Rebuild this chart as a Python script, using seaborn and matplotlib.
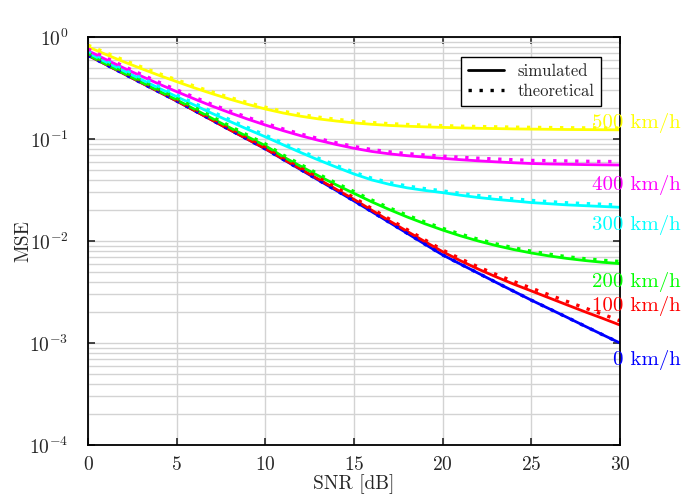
import numpy as np
import pandas as pd
import matplotlib
matplotlib.use("Agg")
import matplotlib.pyplot as plt
from matplotlib.lines import Line2D
from matplotlib.ticker import LogLocator, NullFormatter
import seaborn as sns

# SNR grid (dB), 0..30 in 1 dB steps
snr = list(range(31))

speeds = ['0 km/h', '100 km/h', '200 km/h', '300 km/h', '400 km/h', '500 km/h']
colors = ['#0000ff', '#ff0000', '#00ff00', '#00ffff', '#ff00ff', '#ffff00']

# simulated MSE
sim_0 = [0.661, 0.538, 0.438, 0.356, 0.290, 0.236, 0.190, 0.153, 0.123, 0.0993,
         0.080, 0.0632, 0.050, 0.0395, 0.0313, 0.0247, 0.0194, 0.0152, 0.0119, 0.0093,
         0.0073, 0.00594, 0.00484, 0.00394, 0.00322, 0.00263, 0.00217, 0.00179, 0.00147, 0.00121,
         0.0010]
sim_100 = [0.661, 0.538, 0.438, 0.356, 0.290, 0.236, 0.190, 0.153, 0.123, 0.0995,
           0.0804, 0.0637, 0.0507, 0.0403, 0.0321, 0.0256, 0.02004, 0.01574, 0.01242, 0.00986,
           0.00785, 0.00641, 0.00531, 0.00446, 0.00378, 0.00324, 0.00277, 0.00237, 0.00203, 0.00175,
           0.0015]
sim_200 = [0.666, 0.543, 0.443, 0.361, 0.295, 0.242, 0.196, 0.159, 0.129, 0.105,
           0.086, 0.067, 0.054, 0.0435, 0.0355, 0.0293, 0.0242, 0.0203, 0.0172, 0.01476,
           0.0128, 0.01124, 0.01001, 0.00903, 0.00825, 0.00763, 0.00714, 0.00675, 0.00644, 0.00619,
           0.0060]
sim_300 = [0.700, 0.571, 0.468, 0.384, 0.315, 0.260, 0.215, 0.178, 0.1486, 0.1245,
           0.105, 0.0877, 0.0736, 0.0622, 0.0530, 0.0454, 0.0397, 0.0359, 0.0332, 0.0313,
           0.0298, 0.0281, 0.0267, 0.0256, 0.0247, 0.0238, 0.0232, 0.0226, 0.0222, 0.0218,
           0.0214]
sim_400 = [0.735, 0.603, 0.498, 0.414, 0.346, 0.291, 0.247, 0.210, 0.1807, 0.1567,
           0.1371, 0.1208, 0.1076, 0.0970, 0.0883, 0.0811, 0.0755, 0.0715, 0.0686, 0.0664,
           0.0646, 0.0627, 0.0611, 0.0597, 0.0585, 0.0575, 0.0569, 0.0565, 0.0561, 0.0558,
           0.0556]
sim_500 = [0.800, 0.675, 0.573, 0.490, 0.421, 0.365, 0.317, 0.278, 0.2455, 0.2188,
           0.1968, 0.1799, 0.1671, 0.1574, 0.1500, 0.1439, 0.1393, 0.1358, 0.1334, 0.1315,
           0.1300, 0.1285, 0.1274, 0.1265, 0.1256, 0.1250, 0.1245, 0.1239, 0.1236, 0.1233,
           0.1230]

# theoretical MSE
theo_0 = sim_0
theo_100 = [0.687, 0.560, 0.456, 0.370, 0.302, 0.245, 0.198, 0.159, 0.128, 0.1035,
            0.0836, 0.0662, 0.0527, 0.0419, 0.0334, 0.0266, 0.0208, 0.01637, 0.01292, 0.01025,
            0.00816, 0.00670, 0.00558, 0.00471, 0.00401, 0.00345, 0.00297, 0.00256, 0.00221, 0.00192,
            0.00165]
theo_200 = [0.693, 0.565, 0.461, 0.375, 0.307, 0.252, 0.204, 0.165, 0.134, 0.109,
            0.0894, 0.0697, 0.0562, 0.0452, 0.0369, 0.0305, 0.0252, 0.0211, 0.0179, 0.01535,
            0.01331, 0.01169, 0.01041, 0.00939, 0.00858, 0.00794, 0.00743, 0.00702, 0.00671, 0.00647,
            0.0063]
theo_300 = [0.728, 0.594, 0.487, 0.399, 0.328, 0.270, 0.224, 0.185, 0.1545, 0.1295,
            0.1092, 0.0912, 0.0765, 0.0647, 0.0551, 0.0472, 0.0413, 0.0374, 0.0346, 0.0326,
            0.0310, 0.0293, 0.0279, 0.0268, 0.0259, 0.0250, 0.0243, 0.0237, 0.0233, 0.0229,
            0.0225]
theo_400 = [0.764, 0.627, 0.518, 0.431, 0.360, 0.303, 0.257, 0.218, 0.188, 0.163,
            0.1426, 0.1256, 0.1119, 0.1009, 0.0918, 0.0845, 0.0788, 0.0748, 0.0719, 0.0697,
            0.0679, 0.0662, 0.0648, 0.0636, 0.0626, 0.0617, 0.0613, 0.0609, 0.0605, 0.0602,
            0.0600]
theo_500 = [0.832, 0.702, 0.596, 0.510, 0.438, 0.380, 0.330, 0.289, 0.2553, 0.2276,
            0.2047, 0.1871, 0.1738, 0.1637, 0.1560, 0.1497, 0.1449, 0.1412, 0.1387, 0.1368,
            0.1352, 0.1336, 0.1325, 0.1316, 0.1306, 0.1300, 0.1295, 0.1289, 0.1285, 0.1282,
            0.1279]

label_y = [0.00068, 0.0023, 0.0040, 0.0143, 0.0355, 0.143]

sim = [sim_0, sim_100, sim_200, sim_300, sim_400, sim_500]
theo = [theo_0, theo_100, theo_200, theo_300, theo_400, theo_500]

rows = []
for sp, s, t in zip(speeds, sim, theo):
    for x, a, b in zip(snr, s, t):
        rows.append((x, a, sp, 'simulated'))
        rows.append((x, b, sp, 'theoretical'))
df = pd.DataFrame(rows, columns=['snr', 'mse', 'speed', 'kind'])

sns.set_style('ticks')
plt.rcParams['font.family'] = 'serif'
plt.rcParams['font.serif'] = ['cmr10']
plt.rcParams['mathtext.fontset'] = 'cm'
plt.rcParams['axes.formatter.use_mathtext'] = True
plt.rcParams['axes.unicode_minus'] = False
plt.rcParams['font.size'] = 12

fig = plt.figure(figsize=(6.85, 5.0), dpi=100)
ax = fig.add_axes([0.1285, 0.11, 0.7766, 0.816])

pal = dict(zip(speeds, colors))
dots = (0, (1, 2.3))
sns.lineplot(data=df[df.kind == 'simulated'], x='snr', y='mse', hue='speed',
             palette=pal, linewidth=2.0, legend=False, ax=ax)
sns.lineplot(data=df[df.kind == 'theoretical'], x='snr', y='mse', hue='speed',
             palette=pal, linewidth=2.4, legend=False, ax=ax)
for ln in ax.get_lines()[len(speeds):]:
    ln.set_linestyle(dots)
    ln.set_dash_capstyle('butt')

ax.set_yscale('log')
ax.set_xlim(0, 30)
ax.set_ylim(1e-4, 1)
ax.set_xticks([0, 5, 10, 15, 20, 25, 30])
ax.yaxis.set_minor_locator(LogLocator(base=10, subs=np.arange(2, 10), numticks=20))
ax.yaxis.set_minor_formatter(NullFormatter())
ax.set_xlabel('SNR [dB]', fontsize=14, labelpad=0)
ax.set_ylabel('MSE', fontsize=14, labelpad=-2)

ax.grid(which='major', axis='both', color='#d3d3d3', linewidth=1.0)
ax.grid(which='minor', axis='y', color='#d3d3d3', linewidth=1.0)
ax.tick_params(which='major', direction='in', length=5, width=1.2, top=True, right=True)
ax.tick_params(axis='x', labelsize=14, pad=8)
ax.tick_params(axis='y', labelsize=14, pad=14)
ax.tick_params(which='minor', length=0)
for sp in ax.spines.values():
    sp.set_linewidth(1.3)
    sp.set_color('black')

for sp, c, y in zip(speeds, colors, label_y):
    ax.text(33.4, y, sp, color=c, ha='right', va='center', fontsize=15, clip_on=False)

handles = [Line2D([], [], color='black', linewidth=2.0),
           Line2D([], [], color='black', linewidth=2.4, linestyle=dots,
                  dash_capstyle='butt')]
leg = ax.legend(handles, ['simulated', 'theoretical'], loc='upper right',
                bbox_to_anchor=(0.9805, 0.972), fancybox=False, framealpha=1,
                edgecolor='black', handlelength=2.2, borderpad=0.4, labelspacing=0.3,
                fontsize=12)
leg.get_frame().set_linewidth(1.0)

fig.savefig('out.png', dpi=100)
